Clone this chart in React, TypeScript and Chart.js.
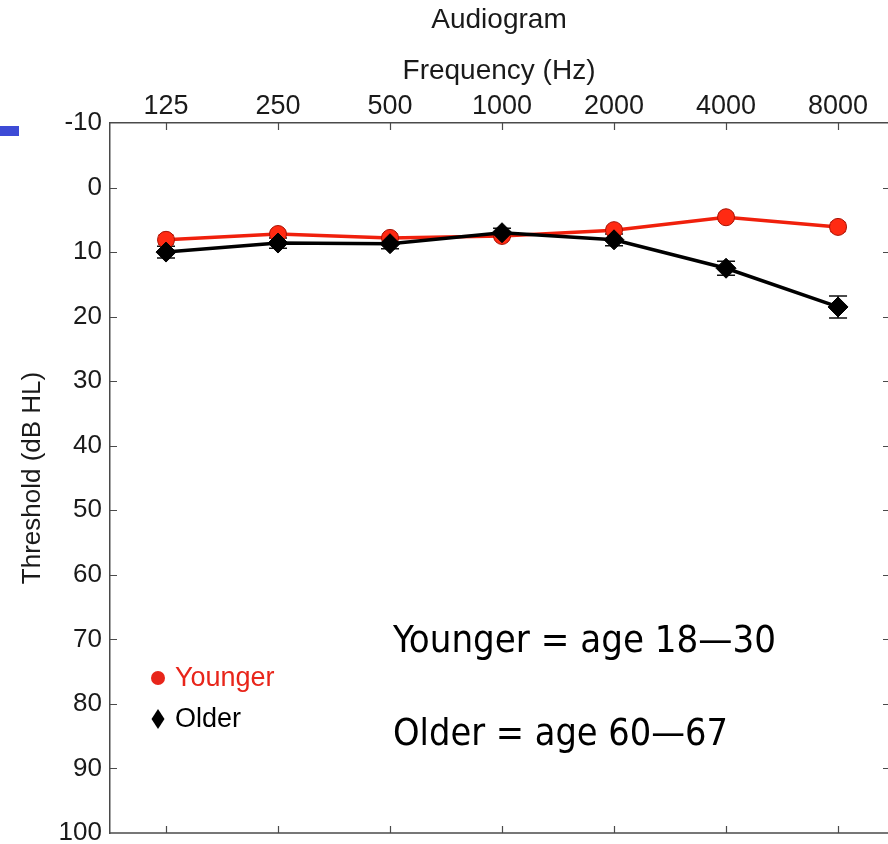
import React, { useEffect, useRef } from 'react';
import { Chart, registerables } from 'chart.js';

Chart.register(...registerables);

// Audiometric test frequencies (Hz), one category per column
const FREQUENCIES = ['125', '250', '500', '1000', '2000', '4000', '8000'];

// Mean hearing thresholds (dB HL) with their error-bar half widths
const YOUNGER = [8.1, 7.2, 7.8, 7.5, 6.6, 4.6, 6.1];
const YOUNGER_ERR = [0.7, 0.6, 0.6, 0.6, 0.6, 0.6, 0.7];
const OLDER = [10.0, 8.6, 8.7, 7.0, 8.1, 12.5, 18.5];
const OLDER_ERR = [0.9, 0.8, 0.8, 0.7, 0.9, 1.1, 1.7];

// Threshold axis ticks (reversed: quieter at top)
const Y_TICKS = [-10, 0, 10, 20, 30, 40, 50, 60, 70, 80, 90, 100];

// Group descriptions
const NOTES = ['Younger = age 18\u201430', 'Older = age 60\u201467'];

const SANS = '"Liberation Sans", Arial, Helvetica, sans-serif';
const NOTE_FONT = '"DejaVu Sans Condensed", "DejaVu Sans", Verdana, sans-serif';
const INK = '#1a1a1a';
const AXIS = '#4a4a4a';
const RED = '#f0200c';
const BLACK = '#000000';

const errorBars = {
  id: 'errorBars',
  beforeDatasetsDraw(chart: any) {
    const { ctx } = chart;
    const y = chart.scales.y;
    chart.data.datasets.forEach((ds: any, di: number) => {
      const meta = chart.getDatasetMeta(di);
      const errs: number[] = ds.errors || [];
      ctx.save();
      ctx.strokeStyle = ds.errorColor;
      ctx.lineWidth = 1.5;
      meta.data.forEach((pt: any, i: number) => {
        const v = ds.data[i].y;
        const e = errs[i] ?? 0;
        const y1 = y.getPixelForValue(v - e);
        const y2 = y.getPixelForValue(v + e);
        const x = pt.x;
        const cap = ds.capHalf;
        ctx.beginPath();
        ctx.moveTo(x, y1);
        ctx.lineTo(x, y2);
        ctx.moveTo(x - cap, y1);
        ctx.lineTo(x + cap, y1);
        ctx.moveTo(x - cap, y2);
        ctx.lineTo(x + cap, y2);
        ctx.stroke();
      });
      ctx.restore();
    });
  },
};

const frame = {
  id: 'frame',
  afterDraw(chart: any) {
    const { ctx, chartArea } = chart;
    const { left, right, top, bottom } = chartArea;
    const xs = chart.scales.x;
    const ys = chart.scales.y;
    ctx.save();

    // bottom edge of the box
    ctx.strokeStyle = AXIS;
    ctx.lineWidth = 1.5;
    ctx.beginPath();
    ctx.moveTo(left, bottom);
    ctx.lineTo(right, bottom);
    ctx.stroke();

    // inward tick marks on all four sides
    ctx.lineWidth = 1.2;
    ctx.beginPath();
    FREQUENCIES.forEach((_, i) => {
      const x = Math.round(xs.getPixelForValue(i)) + 0.5;
      ctx.moveTo(x, top);
      ctx.lineTo(x, top + 7);
      ctx.moveTo(x, bottom);
      ctx.lineTo(x, bottom - 7);
    });
    Y_TICKS.slice(1, -1).forEach((v) => {
      const y = Math.round(ys.getPixelForValue(v)) + 0.5;
      ctx.moveTo(left, y);
      ctx.lineTo(left + 7, y);
      ctx.moveTo(right - 5, y);
      ctx.lineTo(right, y);
    });
    ctx.stroke();

    // slide bullet at the left margin
    ctx.fillStyle = '#3d4bd6';
    ctx.fillRect(0, 126, 19, 10);

    // legend inside the lower-left corner
    ctx.font = `27px ${SANS}`;
    ctx.textBaseline = 'middle';
    ctx.textAlign = 'left';
    const legendOrder = [1, 0];
    legendOrder.forEach((di, row) => {
      const ds = chart.data.datasets[di];
      const cy = bottom - 155 + row * 41;
      const cx = left + 48;
      ctx.fillStyle = ds.legendColor;
      ctx.beginPath();
      if (ds.pointStyle === 'circle') {
        ctx.arc(cx, cy, 7, 0, Math.PI * 2);
      } else {
        ctx.moveTo(cx, cy - 10);
        ctx.lineTo(cx + 6.5, cy);
        ctx.lineTo(cx, cy + 10);
        ctx.lineTo(cx - 6.5, cy);
        ctx.closePath();
      }
      ctx.fill();
      ctx.fillText(ds.label, left + 65, cy + 1);
    });

    // group descriptions
    ctx.fillStyle = '#000';
    ctx.font = `38px ${NOTE_FONT}`;
    ctx.textBaseline = 'alphabetic';
    const noteX = left + 283;
    const baselines = [bottom - 181, bottom - 88];
    NOTES.forEach((t, i) => {
      const w = ctx.measureText(t).width;
      const target = i === 0 ? 385 : 335;
      const k = Math.min(1, target / w);
      ctx.save();
      ctx.translate(noteX, baselines[i]);
      ctx.scale(k, 1);
      ctx.fillText(t, 0, 0);
      ctx.restore();
    });

    ctx.restore();
  },
};

export default function App() {
  const ref = useRef<HTMLCanvasElement | null>(null);

  useEffect(() => {
    const canvas = ref.current;
    if (!canvas) return;

    const chart = new Chart(canvas, {
      type: 'line',
      data: {
        datasets: [
          {
            label: 'Older',
            data: OLDER.map((v, i) => ({ x: i, y: v })),
            borderColor: BLACK,
            backgroundColor: BLACK,
            pointBackgroundColor: BLACK,
            pointBorderColor: BLACK,
            pointBorderWidth: 1,
            pointStyle: 'rectRot',
            pointRadius: 10,
            borderWidth: 3.5,
            order: 0,
            errors: OLDER_ERR,
            errorColor: '#111',
            capHalf: 9,
            legendColor: BLACK,
          } as any,
          {
            label: 'Younger',
            data: YOUNGER.map((v, i) => ({ x: i, y: v })),
            borderColor: RED,
            backgroundColor: RED,
            pointBackgroundColor: '#ff2a12',
            pointBorderColor: '#a81204',
            pointBorderWidth: 1,
            pointStyle: 'circle',
            pointRadius: 8.5,
            borderWidth: 3.5,
            order: 1,
            errors: YOUNGER_ERR,
            errorColor: '#e0463c',
            capHalf: 8,
            legendColor: '#e8251a',
          } as any,
        ],
      },
      options: {
        responsive: false,
        devicePixelRatio: 1,
        animation: false,
        layout: { autoPadding: false, padding: { top: 0, left: 0, right: 0, bottom: 11 } },
        plugins: {
          legend: { display: false },
          tooltip: { enabled: false },
          title: {
            display: true,
            text: 'Audiogram',
            fullSize: false,
            color: INK,
            font: { family: SANS, size: 28, weight: 'normal', lineHeight: 1.2 },
            padding: { top: 3, bottom: 3 },
          },
        },
        scales: {
          x: {
            type: 'linear',
            position: 'top',
            min: -0.5,
            max: 6.446,
            afterBuildTicks: (s: any) => {
              s.ticks = FREQUENCIES.map((_, i) => ({ value: i }));
            },
            afterFit: (s: any) => {
              s.height = 83.4;
              s.paddingLeft = 0;
              s.paddingRight = 0;
            },
            ticks: {
              autoSkip: false,
              maxRotation: 0,
              color: INK,
              padding: 2.5,
              font: { family: SANS, size: 27, lineHeight: 1 },
              callback: (v: any) => FREQUENCIES[v] ?? '',
            },
            grid: { drawOnChartArea: false, drawTicks: false },
            border: { display: true, color: AXIS, width: 1.5 },
            title: {
              display: true,
              text: 'Frequency (Hz)',
              color: INK,
              font: { family: SANS, size: 28, lineHeight: 1.2 },
              padding: { top: 14.6, bottom: 0 },
            },
          },
          y: {
            type: 'linear',
            position: 'left',
            reverse: true,
            min: -10,
            max: 100,
            afterBuildTicks: (s: any) => {
              s.ticks = Y_TICKS.map((v) => ({ value: v }));
            },
            afterFit: (s: any) => {
              s.width = 110;
              s.paddingTop = 0;
              s.paddingBottom = 0;
            },
            ticks: {
              color: INK,
              padding: 8,
              font: { family: SANS, size: 26, lineHeight: 0.8 },
            },
            grid: { drawOnChartArea: false, drawTicks: false },
            border: { display: true, color: AXIS, width: 1.5 },
            title: {
              display: true,
              text: 'Threshold (dB HL)',
              color: INK,
              font: { family: SANS, size: 26, lineHeight: 1.2 },
              padding: { top: 17, bottom: 0 },
            },
          },
        },
      },
      plugins: [errorBars, frame],
    } as any);

    return () => chart.destroy();
  }, []);

  return (
    <div style={{ position: 'absolute', left: 0, top: 0, width: 888, height: 844, background: '#fff' }}>
      <canvas ref={ref} width={888} height={844} style={{ display: 'block' }} />
    </div>
  );
}
